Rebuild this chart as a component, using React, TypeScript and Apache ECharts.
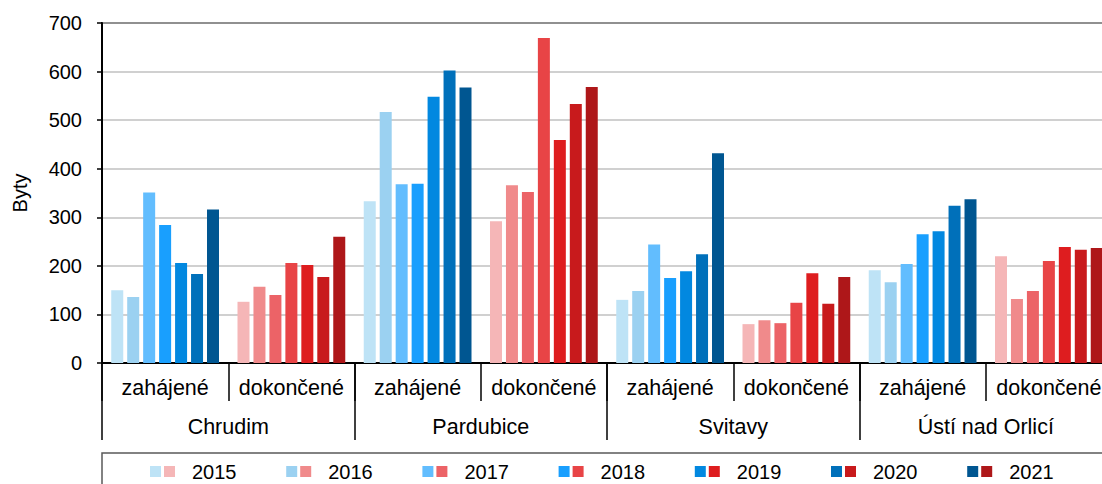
import React, { useEffect, useRef } from "react";
import * as echarts from "echarts";

const years = ["2015", "2016", "2017", "2018", "2019", "2020", "2021"];
const districts = ["Chrudim", "Pardubice", "Svitavy", "Ústí nad Orlicí"];
const kinds = ["zahájené", "dokončené"];
const yTicks = [0, 100, 200, 300, 400, 500, 600, 700];

const chrudimZahajene = [150, 136, 351, 284, 206, 183, 316];
const chrudimDokoncene = [126, 157, 140, 206, 202, 177, 260];
const pardubiceZahajene = [333, 517, 368, 369, 548, 602, 567];
const pardubiceDokoncene = [292, 366, 352, 669, 459, 533, 568];
const svitavyZahajene = [130, 148, 244, 175, 189, 224, 432];
const svitavyDokoncene = [80, 88, 82, 124, 185, 122, 177];
const ustiZahajene = [191, 166, 204, 265, 271, 324, 337];
const ustiDokoncene = [220, 132, 148, 210, 239, 233, 237];

const blues = ["#BEE3F6", "#9BD1F1", "#62BDFE", "#199FFE", "#0288E0", "#0070BA", "#005691"];
const reds = ["#F5B6B7", "#F08A8B", "#EC6367", "#E84446", "#DE1D1F", "#C81A1C", "#AE1719"];

const groups = [
  chrudimZahajene, chrudimDokoncene,
  pardubiceZahajene, pardubiceDokoncene,
  svitavyZahajene, svitavyDokoncene,
  ustiZahajene, ustiDokoncene,
];

const FONT = "'Liberation Sans', Arial, sans-serif";

export default function App() {
  const ref = useRef<HTMLDivElement>(null);
  useEffect(() => {
    if (!ref.current) return;
    const chart = echarts.init(ref.current, undefined, { renderer: "svg" });
    const categories = districts.flatMap(() => kinds);
    const series = years.map((y, i) => ({
      type: "bar",
      name: y,
      xAxisIndex: 0,
      barWidth: 12,
      barGap: "33%",
      data: groups.map((g, gi) => ({
        value: g[i],
        itemStyle: { color: gi % 2 === 0 ? blues[i] : reds[i] },
      })),
    }));
    const legendEls: any[] = [
      {
        type: "rect",
        shape: { x: 102, y: 453, width: 1030, height: 60 },
        style: { fill: "none", stroke: "#595959", lineWidth: 1.5 },
      },
    ];
    years.forEach((y, i) => {
      const x0 = 150 + i * 136.2;
      legendEls.push(
        { type: "rect", shape: { x: x0, y: 466, width: 11, height: 11 }, style: { fill: blues[i] } },
        { type: "rect", shape: { x: x0 + 14, y: 466, width: 11, height: 11 }, style: { fill: reds[i] } },
        {
          type: "text",
          x: x0 + 42,
          y: 472,
          style: { text: y, fontSize: 20, fontFamily: FONT, fill: "#000", verticalAlign: "middle", align: "left" },
        }
      );
    });
    chart.setOption({
      animation: false,
      textStyle: { fontFamily: FONT },
      grid: {
        left: 102, top: 23, right: 0, bottom: 121,
        show: true, borderColor: "#000", borderWidth: 2, backgroundColor: "transparent",
      },
      xAxis: [
        {
          type: "category",
          data: categories,
          position: "bottom",
          axisLine: { show: true, lineStyle: { color: "#000", width: 2 } },
          axisTick: { show: true, interval: 0, length: 38, lineStyle: { color: "#000", width: 1.5 } },
          axisLabel: { interval: 0, margin: 14, fontSize: 21.5, color: "#000", fontFamily: FONT },
        },
        {
          type: "category",
          data: districts,
          position: "bottom",
          axisLine: { show: false },
          axisTick: { show: true, interval: 0, length: 77, lineStyle: { color: "#000", width: 1.5 } },
          axisLabel: { interval: 0, margin: 53, fontSize: 21.5, color: "#000", fontFamily: FONT },
        },
      ],
      yAxis: {
        type: "value",
        min: yTicks[0],
        max: yTicks[yTicks.length - 1],
        interval: 100,
        name: "Byty",
        nameLocation: "middle",
        nameRotate: 90,
        nameGap: 72,
        nameTextStyle: { fontSize: 20, color: "#000", fontFamily: FONT },
        axisLine: { show: true, lineStyle: { color: "#000", width: 2 } },
        axisTick: { show: true, length: 5, lineStyle: { color: "#000", width: 1.5 } },
        axisLabel: { margin: 20, fontSize: 20, color: "#000", fontFamily: FONT },
        splitLine: { show: true, lineStyle: { color: "#C0C0C0", width: 1.5 } },
      },
      series,
      graphic: legendEls,
    });
    return () => chart.dispose();
  }, []);
  return (
    <div style={{ position: "absolute", left: 0, top: 0, width: 1102, height: 484, overflow: "hidden", background: "#fff" }}>
      <div ref={ref} style={{ width: 1112, height: 484 }} />
    </div>
  );
}
